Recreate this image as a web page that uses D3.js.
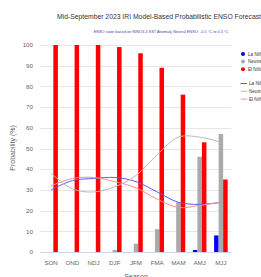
<!DOCTYPE html>
<html>
<head>
<meta charset="utf-8">
<script src="https://cdn.jsdelivr.net/npm/d3@7"></script>
<style>
  html, body { margin: 0; padding: 0; background: #fff; overflow: hidden; }
  text { font-family: "Liberation Sans", Arial, sans-serif; }
</style>
</head>
<body>
<svg width="261" height="277"></svg>
<script>
const width = 261;
const height = 277;

const seasons = ["SON", "OND", "NDJ", "DJF", "JFM", "FMA", "MAM", "AMJ", "MJJ"];
const laNina = [0, 0, 0, 0, 0, 0, 0, 1, 8];
const neutral = [0, 0, 0, 1, 4, 11, 24, 46, 57];
const elNino = [100, 100, 100, 99, 96, 89, 76, 53, 35];
// climatological probabilities (lines)
const laNinaClim = [30, 34.5, 35.5, 36, 34, 29, 24, 23, 24];
const neutralClim = [38, 30.5, 29, 31.5, 37, 47, 55.5, 55.5, 53];
const elNinoClim = [32, 35.5, 36, 34, 31, 25.5, 21.5, 22.5, 24];
const yTicks = [0, 10, 20, 30, 40, 50, 60, 70, 80, 90, 100];

const seriesNames = ["La Niña", "Neutral", "El Niño"];
const barColors = ["#0000ff", "#aaaaaa", "#ff0000"];
const lineColors = ["#5a5aff", "#b8b8b8", "#ff8c8c"];

const svg = d3.select("svg");

const x = d3.scaleBand().domain(seasons).range([40.5, 231.5]);
const xInner = d3.scaleBand().domain([0, 1, 2]).range([0, x.bandwidth()]).paddingOuter(0.85);
const y = d3.scaleLinear().domain([0, 100]).range([252, 45]);

// title
svg.append("text")
  .attr("x", 159).attr("y", 19)
  .attr("text-anchor", "middle")
  .style("font-size", "6.8px")
  .style("fill", "#333")
  .text("Mid-September 2023 IRI Model-Based Probabilistic ENSO Forecast");

svg.append("text")
  .attr("x", 161).attr("y", 33)
  .attr("text-anchor", "middle")
  .style("font-size", "3.9px")
  .style("fill", "#4646aa")
  .text("ENSO state based on NINO3.4 SST Anomaly Neutral ENSO: -0.5 °C to 0.5 °C");

// grid
svg.append("g").selectAll("line")
  .data(yTicks)
  .enter().append("line")
  .attr("x1", 40).attr("x2", 231)
  .attr("y1", d => Math.round(y(d)) + 0.5)
  .attr("y2", d => Math.round(y(d)) + 0.5)
  .attr("stroke", d => d === 0 ? "#ccd6eb" : "#e6e6e6")
  .attr("stroke-width", 1);

// y labels
svg.append("g").selectAll("text")
  .data(yTicks)
  .enter().append("text")
  .attr("x", 33)
  .attr("y", d => y(d) + 2.2)
  .attr("text-anchor", "end")
  .style("font-size", "6.2px")
  .style("fill", "#666")
  .text(d => d);

svg.append("text")
  .attr("transform", "translate(15,148) rotate(-90)")
  .attr("text-anchor", "middle")
  .style("font-size", "7px")
  .style("fill", "#666")
  .text("Probability (%)");

// x labels
svg.append("g").selectAll("text")
  .data(seasons)
  .enter().append("text")
  .attr("x", d => x(d) + x.bandwidth() / 2)
  .attr("y", 265)
  .attr("text-anchor", "middle")
  .style("font-size", "6.2px")
  .style("fill", "#666")
  .text(d => d);

svg.append("text")
  .attr("x", 136).attr("y", 279)
  .attr("text-anchor", "middle")
  .style("font-size", "7px")
  .style("fill", "#666")
  .text("Season");

// bars
const barData = [laNina, neutral, elNino];
barData.forEach((vals, s) => {
  svg.append("g").selectAll("rect")
    .data(vals)
    .enter().append("rect")
    .attr("x", (d, i) => x(seasons[i]) + xInner(s))
    .attr("width", xInner.bandwidth())
    .attr("y", d => y(d))
    .attr("height", d => y(0) - y(d))
    .attr("fill", barColors[s]);
});

// climatology lines
const line = d3.line()
  .x((d, i) => x(seasons[i]) + x.bandwidth() / 2)
  .y(d => y(d))
  .curve(d3.curveCatmullRom.alpha(0.5));

[laNinaClim, neutralClim, elNinoClim].forEach((vals, s) => {
  svg.append("path")
    .attr("d", line(vals))
    .attr("fill", "none")
    .attr("stroke", lineColors[s])
    .attr("stroke-width", 1);
});

// legend
const legend = svg.append("g");
seriesNames.forEach((name, i) => {
  legend.append("circle")
    .attr("cx", 243).attr("cy", 54 + i * 7.6)
    .attr("r", 2)
    .attr("fill", barColors[i]);
  legend.append("text")
    .attr("x", 248).attr("y", 55.6 + i * 7.6)
    .style("font-size", "4.6px")
    .style("fill", "#333")
    .text(name);
  legend.append("line")
    .attr("x1", 240.5).attr("x2", 247)
    .attr("y1", 83.5 + i * 7.8).attr("y2", 83.5 + i * 7.8)
    .attr("stroke", lineColors[i])
    .attr("stroke-width", 1);
  legend.append("text")
    .attr("x", 249).attr("y", 85.1 + i * 7.8)
    .style("font-size", "4.6px")
    .style("fill", "#333")
    .text(name);
});
</script>
</body>
</html>
